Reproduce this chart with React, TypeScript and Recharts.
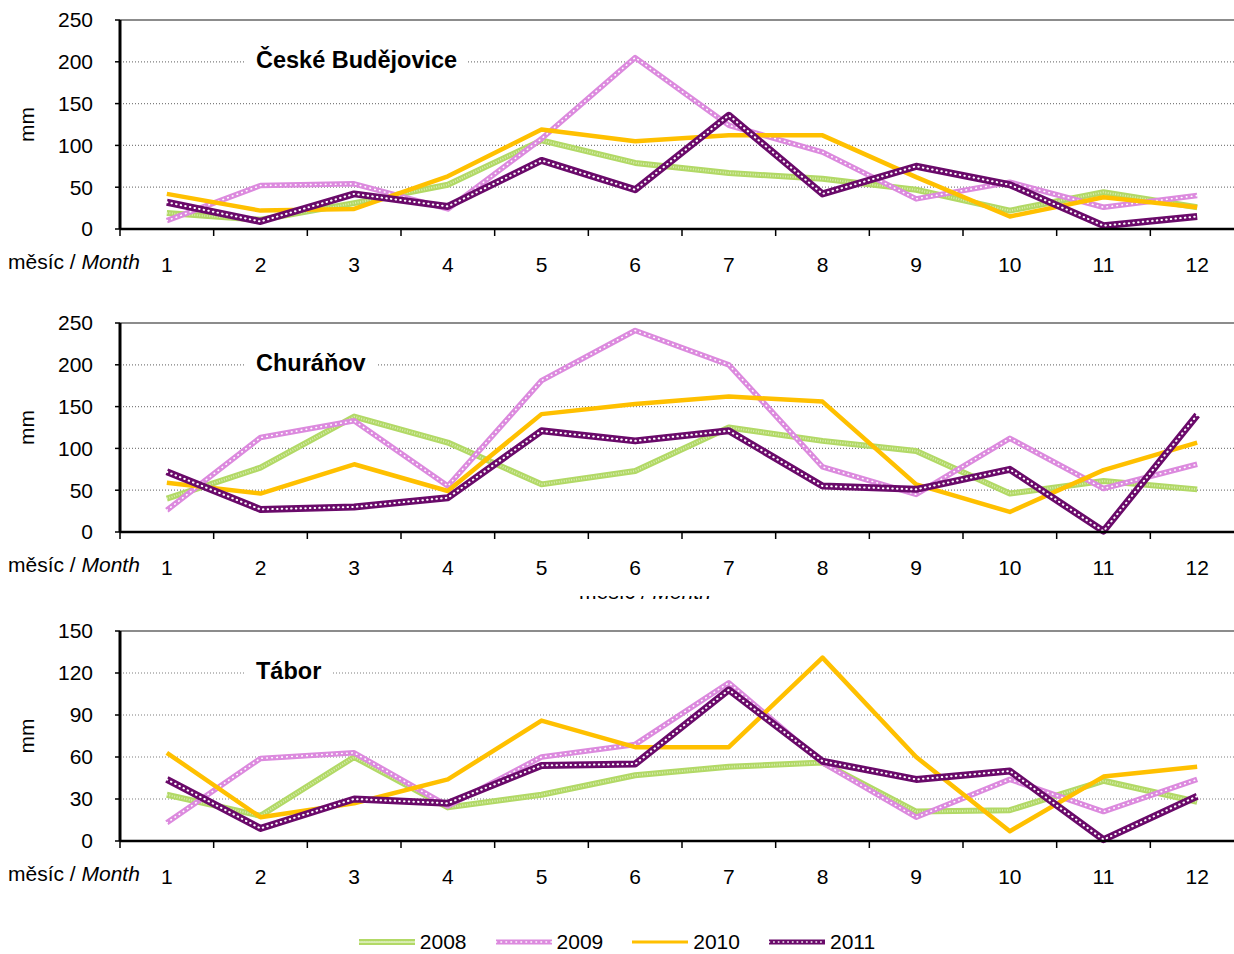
import { LineChart, Line, XAxis, YAxis, CartesianGrid, ReferenceLine } from 'recharts';

const months = [1, 2, 3, 4, 5, 6, 7, 8, 9, 10, 11, 12];
const years = ['2008', '2009', '2010', '2011'];

// České Budějovice
const cb2008 = [19, 11, 31, 53, 106, 79, 67, 60, 47, 22, 44, 26];
const cb2009 = [10, 52, 54, 24, 108, 205, 124, 92, 36, 56, 26, 40];
const cb2010 = [42, 22, 24, 63, 119, 105, 112, 112, 62, 15, 38, 26];
const cb2011 = [32, 9, 42, 27, 82, 47, 136, 42, 75, 53, 4, 15];

// Churáňov
const ch2008 = [40, 77, 138, 107, 57, 73, 125, 109, 97, 46, 61, 51];
const ch2009 = [26, 113, 133, 55, 181, 241, 200, 78, 45, 112, 52, 81];
const ch2010 = [59, 46, 81, 49, 141, 153, 162, 156, 57, 24, 74, 107];
const ch2011 = [72, 27, 30, 41, 121, 109, 121, 55, 51, 75, 1, 140];

// Tábor
const ta2008 = [33, 18, 60, 24, 33, 47, 53, 56, 21, 22, 43, 28];
const ta2009 = [13, 59, 63, 25, 60, 69, 113, 56, 17, 44, 21, 44];
const ta2010 = [63, 17, 27, 44, 86, 67, 67, 131, 60, 7, 46, 53];
const ta2011 = [44, 9, 30, 27, 54, 55, 108, 57, 44, 50, 1, 32];

const ticks250 = [0, 50, 100, 150, 200, 250];
const ticks150 = [0, 30, 60, 90, 120, 150];

const xTicks = months.flatMap((m) => [m - 0.5, m]).concat(months[months.length - 1] + 0.5);

const FONT = '"Liberation Sans", Arial, sans-serif';

const panels = [
  { title: 'České Budějovice', top: 0, plotH: 209, yTicks: ticks250, series: [cb2008, cb2009, cb2010, cb2011] },
  { title: 'Churáňov', top: 303, plotH: 209, yTicks: ticks250, series: [ch2008, ch2009, ch2010, ch2011] },
  { title: 'Tábor', top: 611, plotH: 210, yTicks: ticks150, series: [ta2008, ta2009, ta2010, ta2011] },
];

const MonthTick = (props: any) => {
  const { x, y, payload } = props;
  const v = payload.value;
  if (Number.isInteger(v)) {
    return (
      <text x={x} y={y + 35} textAnchor="middle" dominantBaseline="central" fontSize={21} fill="#000" fontFamily={FONT}>
        {v}
      </text>
    );
  }
  return <line x1={x} y1={y} x2={x} y2={y + 7} stroke="#000" strokeWidth={1.5} />;
};

const lineBase = { type: 'linear' as const, dot: false, activeDot: false, isAnimationActive: false, strokeLinejoin: 'round' as const, legendType: 'none' as const };

function Panel({ title, top, plotH, yTicks, series }: any) {
  const data = months.map((m, i) => ({
    m,
    y2008: series[0][i],
    y2009: series[1][i],
    y2010: series[2][i],
    y2011: series[3][i],
  }));
  const yMax = yTicks[yTicks.length - 1];
  const chartH = 300;
  const axisY = 20 + plotH;
  return (
    <div style={{ position: 'absolute', left: 0, top, width: 1260, height: chartH }}>
      <LineChart width={1260} height={chartH} data={data} margin={{ top: 20, right: 16, left: 0, bottom: chartH - 20 - plotH - 50 }}>
        <CartesianGrid vertical={false} stroke="#7f7f7f" strokeDasharray="1 2" strokeWidth={1.2} />
        <ReferenceLine y={yMax} stroke="#8c8c8c" strokeWidth={2} />
        <XAxis
          type="number"
          dataKey="m"
          domain={[0.5, 12.5]}
          ticks={xTicks}
          interval={0}
          height={50}
          tickSize={0}
          tickMargin={0}
          tickLine={false}
          tick={<MonthTick />}
          axisLine={{ stroke: '#000', strokeWidth: 2.5 }}
        />
        <YAxis
          type="number"
          domain={[0, yMax]}
          ticks={yTicks}
          interval={0}
          width={120}
          tickSize={5}
          tickMargin={22}
          tickLine={{ stroke: '#000', strokeWidth: 1.5 }}
          axisLine={{ stroke: '#000', strokeWidth: 3 }}
          tick={{ fontSize: 21, fill: '#000', fontFamily: FONT }}
          label={{ value: 'mm', angle: -90, position: 'center', dx: -33, fontSize: 21, fill: '#000', fontFamily: FONT }}
        />
        <Line {...lineBase} dataKey="y2008" name={years[0]} stroke="#b2d966" strokeWidth={6} />
        <Line {...lineBase} dataKey="y2008" stroke="#ffffff" strokeOpacity={0.5} strokeWidth={2} strokeDasharray="1 1.5" />
        <Line {...lineBase} dataKey="y2009" name={years[1]} stroke="#dc8ade" strokeWidth={5.5} />
        <Line {...lineBase} dataKey="y2009" stroke="#ffffff" strokeWidth={1.6} strokeDasharray="0.5 4.5" strokeLinecap="round" />
        <Line {...lineBase} dataKey="y2010" name={years[2]} stroke="#ffc000" strokeWidth={4.5} />
        <Line {...lineBase} dataKey="y2011" name={years[3]} stroke="#6a0a6a" strokeWidth={7} />
        <Line {...lineBase} dataKey="y2011" stroke="#ffffff" strokeWidth={2} strokeDasharray="0.5 4.2" strokeLinecap="round" />
      </LineChart>
      <div
        style={{
          position: 'absolute',
          left: 245,
          top: 20 + plotH / 5 - 17,
          height: 30,
          lineHeight: '30px',
          padding: '0 10px 0 11px',
          background: '#fff',
          fontFamily: FONT,
          fontWeight: 'bold',
          fontSize: 23.5,
          color: '#000',
          whiteSpace: 'nowrap',
        }}
      >
        {title}
      </div>
      <div
        style={{
          position: 'absolute',
          left: 8,
          top: axisY + 33 - 12,
          lineHeight: '24px',
          fontFamily: FONT,
          fontSize: 21,
          color: '#000',
          whiteSpace: 'nowrap',
        }}
      >
        měsíc / <i>Month</i>
      </div>
    </div>
  );
}

const legendStyles = [
  { stroke: '#b2d966', w: 6, over: { stroke: '#fff', w: 2, dash: '1 1.5', op: 0.5 } },
  { stroke: '#dc8ade', w: 5, over: { stroke: '#fff', w: 1.6, dash: '0.5 4.5', op: 1 } },
  { stroke: '#ffc000', w: 3, over: null },
  { stroke: '#6a0a6a', w: 5, over: { stroke: '#fff', w: 1.6, dash: '0.5 4.2', op: 1 } },
];

export default function App() {
  return (
    <div style={{ position: 'absolute', left: 0, top: 0, width: 1234, height: 954, overflow: 'hidden', background: '#fff' }}>
      {panels.map((p) => (
        <Panel key={p.title} {...p} />
      ))}
      {/* axis title of the middle panel, almost entirely hidden as in the source */}
      <div style={{ position: 'absolute', left: 520, top: 596, width: 250, height: 3, overflow: 'hidden' }}>
        <div
          style={{
            position: 'absolute',
            left: 0,
            width: 250,
            top: -15,
            textAlign: 'center',
            lineHeight: '21px',
            fontFamily: FONT,
            fontSize: 21,
            color: '#000',
          }}
        >
          měsíc / <i>Month</i>
        </div>
      </div>
      <div
        style={{
          position: 'absolute',
          left: 0,
          top: 929,
          width: 1234,
          display: 'flex',
          justifyContent: 'center',
          gap: 29,
          fontFamily: FONT,
          fontSize: 21,
          lineHeight: '26px',
          color: '#000',
        }}
      >
        {years.map((y, i) => {
          const s = legendStyles[i];
          return (
            <div key={y} style={{ display: 'flex', alignItems: 'center' }}>
              <svg width={56} height={12} style={{ marginRight: 5 }}>
                <line x1={0} y1={6} x2={56} y2={6} stroke={s.stroke} strokeWidth={s.w} />
                {s.over && (
                  <line
                    x1={0}
                    y1={6}
                    x2={56}
                    y2={6}
                    stroke={s.over.stroke}
                    strokeWidth={s.over.w}
                    strokeDasharray={s.over.dash}
                    strokeOpacity={s.over.op}
                    strokeLinecap="round"
                  />
                )}
              </svg>
              <span>{y}</span>
            </div>
          );
        })}
      </div>
    </div>
  );
}
